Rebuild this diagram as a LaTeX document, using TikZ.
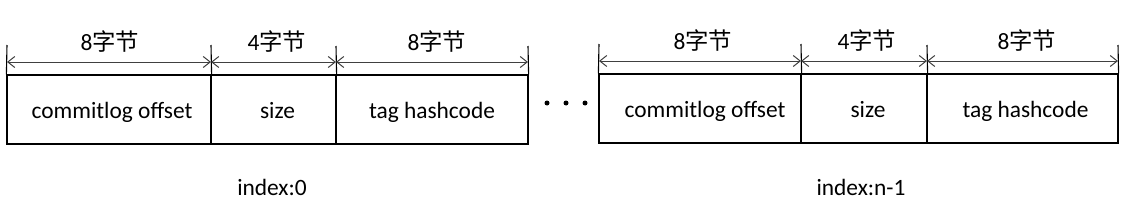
\documentclass[tikz,border=0pt]{standalone}
\usepackage{fontspec}
\setmainfont{Carlito}
\newfontfamily\cjk{Noto Sans CJK SC}
\usetikzlibrary{arrows.meta}
\begin{document}
\begin{tikzpicture}[x=1pt,y=-1pt,
  cell/.style={draw=black,line width=1.2pt,inner sep=0pt,minimum height=69pt,text height=17pt,text depth=0pt,font=\fontsize{23.4}{25}\selectfont},
  ext/.style={draw=black,line width=1.1pt},
  dim/.style={draw=black!75,line width=1pt,{Straight Barb[length=7pt,width=11pt]}-{Straight Barb[length=7pt,width=11pt]}},
  lbl/.style={font=\fontsize{23.4}{25}\selectfont,inner sep=0pt,anchor=base},
  dotn/.style={circle,fill=black,inner sep=0pt,minimum size=5pt}]
\useasboundingbox (0,0) rectangle (1143,209);
% group 0
\node[cell,minimum width=204pt] (a1) at (109,109.5) {\hspace{6pt}commitlog offset};
\node[cell,minimum width=125pt] (a2) at (273.5,109.5) {\hspace{8pt}size};
\node[cell,minimum width=192pt] (a3) at (432,109.5) {tag hashcode};
\coordinate (p0) at (7,45);
\coordinate (p1) at (211,45);
\coordinate (p2) at (336,46);
\coordinate (p3) at (528,46);
\draw[ext] (a1.north west) -- (p0);
\draw[ext] (a1.north east) -- (p1);
\draw[ext] (a2.north east) -- (p2);
\draw[ext] (a3.north east) -- (p3);
\coordinate (q0) at (7,62);
\coordinate (q1) at (211,62);
\coordinate (q2) at (336,62);
\coordinate (q3) at (528,62);
\draw[dim] (q0) -- (q1);
\draw[dim] (q1) -- (q2);
\draw[dim] (q2) -- (q3);
\node[lbl] (l1) at (110,50) {8{\cjk 字节}};
\node[lbl] (l2) at (277,50) {4{\cjk 字节}};
\node[lbl] (l3) at (437,50) {8{\cjk 字节}};
\node[lbl] (i0) at (272,195) {index:0};
% dots
\node[dotn] (d1) at (547,103) {};
\node[dotn] (d2) at (566,103) {};
\node[dotn] (d3) at (585,103) {};
% group n-1
\node[cell,minimum width=202pt] (b1) at (700,108.5) {\hspace{10pt}commitlog offset};
\node[cell,minimum width=126pt] (b2) at (864,108.5) {\hspace{8pt}size};
\node[cell,minimum width=191pt] (b3) at (1022.5,108.5) {\hspace{6pt}tag hashcode};
\coordinate (r0) at (599,44);
\coordinate (r1) at (801,44);
\coordinate (r2) at (927,45);
\coordinate (r3) at (1118,45);
\draw[ext] (b1.north west) -- (r0);
\draw[ext] (b1.north east) -- (r1);
\draw[ext] (b2.north east) -- (r2);
\draw[ext] (b3.north east) -- (r3);
\coordinate (s0) at (599,61);
\coordinate (s1) at (801,61);
\coordinate (s2) at (927,61);
\coordinate (s3) at (1118,61);
\draw[dim] (s0) -- (s1);
\draw[dim] (s1) -- (s2);
\draw[dim] (s2) -- (s3);
\node[lbl] (m1) at (703,49) {8{\cjk 字节}};
\node[lbl] (m2) at (867,49) {4{\cjk 字节}};
\node[lbl] (m3) at (1027,49) {8{\cjk 字节}};
\node[lbl] (i1) at (861,195) {index:n-1};
\end{tikzpicture}
\end{document}
